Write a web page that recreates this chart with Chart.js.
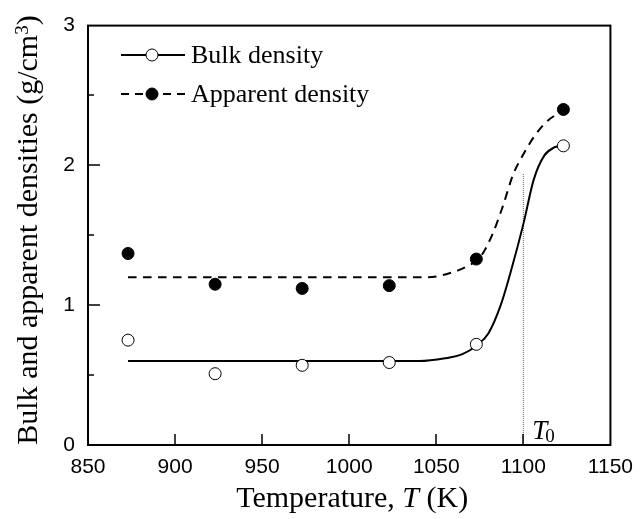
<html>
<head>
<title>Bulk and apparent densities</title>
<script src="https://cdn.jsdelivr.net/npm/chart.js@4.4.0/dist/chart.umd.min.js"></script>
<style>
  body { margin: 0; background: #fff; }
  #wrap { width: 643px; height: 519px; }
</style>
</head>
<body>
<div id="wrap"><canvas id="density-chart" width="643" height="519"></canvas></div>
<script>
// measured points
const temps = [873, 923, 973, 1023, 1073, 1123];
const bulkDensity = [0.75, 0.51, 0.57, 0.59, 0.72, 2.14];
const apparentDensity = [1.37, 1.15, 1.12, 1.14, 1.33, 2.40];

// fitted curves
const bulkFitT = [873, 1040, 1055, 1065, 1073, 1080, 1087, 1093, 1100, 1106, 1112, 1118, 1121];
const bulkFitY = [0.60, 0.60, 0.62, 0.65, 0.71, 0.80, 1.00, 1.25, 1.58, 1.90, 2.07, 2.13, 2.14];
const appFitT = [873, 1045, 1058, 1068, 1075, 1082, 1088, 1094, 1100, 1107, 1114, 1121];
const appFitY = [1.20, 1.20, 1.23, 1.28, 1.34, 1.50, 1.70, 1.93, 2.08, 2.22, 2.32, 2.38];

// T0 marker
const t0 = 1100;
const t0Top = 1.94;

const xTicks = [850, 900, 950, 1000, 1050, 1100, 1150];
const yTicks = [0, 1, 2, 3];
const xInnerTicks = [900, 950, 1000, 1050, 1100];
const yInnerTicks = [1, 2];
const yMinorTicks = [0.5, 1.5, 2.5];

const toXY = (xs, ys) => xs.map((x, i) => ({ x: x, y: ys[i] }));

const SERIF = '"Liberation Serif", "Times New Roman", serif';
const SANS = '"Liberation Sans", Arial, sans-serif';

function seg(ctx, x1, y1, x2, y2) {
    ctx.beginPath();
    ctx.moveTo(x1, y1);
    ctx.lineTo(x2, y2);
    ctx.stroke();
}

// frame, inward ticks, legend, titles, T0 label
const decorations = {
    id: 'decorations',
    afterDraw(chart) {
        const ctx = chart.ctx;
        const a = chart.chartArea;
        const xs = chart.scales.x;
        const ys = chart.scales.y;
        ctx.save();
        ctx.strokeStyle = '#000';
        ctx.setLineDash([]);
        ctx.lineWidth = 2;
        ctx.strokeRect(a.left, a.top, a.right - a.left, a.bottom - a.top);

        ctx.lineWidth = 1.5;
        xInnerTicks.forEach(v => {
            const px = Math.round(xs.getPixelForValue(v));
            seg(ctx, px, a.bottom, px, a.bottom - 11);
        });
        yInnerTicks.forEach(v => {
            const py = Math.round(ys.getPixelForValue(v));
            seg(ctx, a.left, py, a.left + 12, py);
        });
        yMinorTicks.forEach(v => {
            const py = Math.round(ys.getPixelForValue(v));
            seg(ctx, a.left, py, a.left + 6, py);
        });

        // legend
        const rows = [
            { y: 55, dash: [], fill: '#fff', text: 'Bulk density' },
            { y: 94, dash: [8, 6], fill: '#000', text: 'Apparent density' }
        ];
        rows.forEach(r => {
            ctx.setLineDash(r.dash);
            ctx.lineWidth = 2;
            seg(ctx, 121, r.y, 185, r.y);
            ctx.setLineDash([]);
            ctx.lineWidth = 1;
            ctx.fillStyle = r.fill;
            ctx.beginPath();
            ctx.arc(152, r.y, 6, 0, Math.PI * 2);
            ctx.fill();
            ctx.stroke();
            ctx.fillStyle = '#000';
            ctx.font = '26px ' + SERIF;
            ctx.textBaseline = 'middle';
            ctx.textAlign = 'left';
            ctx.fillText(r.text, 191, r.y + 1);
        });

        // T0 label
        const tx = xs.getPixelForValue(t0) + 9;
        const ty = 439;
        ctx.textBaseline = 'alphabetic';
        ctx.font = 'italic 27px ' + SERIF;
        ctx.fillText('T', tx, ty);
        const tw = ctx.measureText('T').width;
        ctx.font = '19px ' + SERIF;
        ctx.fillText('0', tx + tw - 2, ty + 3);

        // x title with italic T
        const parts = [
            { t: 'Temperature, ', f: '30px ' + SERIF },
            { t: 'T', f: 'italic 30px ' + SERIF },
            { t: ' (K)', f: '30px ' + SERIF }
        ];
        let total = 0;
        parts.forEach(p => { ctx.font = p.f; p.w = ctx.measureText(p.t).width; total += p.w; });
        let x0 = (a.left + a.right) / 2 - total / 2 + 3;
        parts.forEach(p => { ctx.font = p.f; ctx.fillText(p.t, x0, 507); x0 += p.w; });

        // y title with superscript 3
        ctx.translate(37, 230);
        ctx.rotate(-Math.PI / 2);
        const yParts = [
            { t: 'Bulk and apparent densities (g/cm', f: '30px ' + SERIF, dy: 0 },
            { t: '3', f: '19px ' + SERIF, dy: -9 },
            { t: ')', f: '30px ' + SERIF, dy: 0 }
        ];
        total = 0;
        yParts.forEach(p => { ctx.font = p.f; p.w = ctx.measureText(p.t).width; total += p.w; });
        x0 = -total / 2;
        yParts.forEach(p => { ctx.font = p.f; ctx.fillText(p.t, x0, p.dy); x0 += p.w; });
        ctx.restore();
    }
};

const ctx = document.getElementById('density-chart').getContext('2d');
new Chart(ctx, {
    type: 'scatter',
    data: {
        datasets: [
            {
                label: 'T0',
                data: toXY([t0, t0], [0, t0Top]),
                showLine: true,
                borderColor: '#666',
                borderWidth: 1,
                borderDash: [1, 1],
                pointRadius: 0,
                order: 5
            },
            {
                label: 'Bulk fit',
                data: toXY(bulkFitT, bulkFitY),
                showLine: true,
                borderColor: '#000',
                borderWidth: 2,
                cubicInterpolationMode: 'monotone',
                pointRadius: 0,
                order: 4
            },
            {
                label: 'Apparent fit',
                data: toXY(appFitT, appFitY),
                showLine: true,
                borderColor: '#000',
                borderWidth: 2,
                borderDash: [8.5, 6.5],
                cubicInterpolationMode: 'monotone',
                pointRadius: 0,
                order: 3
            },
            {
                label: 'Bulk density',
                data: toXY(temps, bulkDensity),
                pointRadius: 6,
                pointBackgroundColor: '#fff',
                pointBorderColor: '#000',
                pointBorderWidth: 1,
                order: 1
            },
            {
                label: 'Apparent density',
                data: toXY(temps, apparentDensity),
                pointRadius: 6,
                pointBackgroundColor: '#000',
                pointBorderColor: '#000',
                pointBorderWidth: 1,
                order: 2
            }
        ]
    },
    options: {
        responsive: false,
        animation: false,
        layout: { padding: { left: 0, top: 20, right: 26, bottom: 0 } },
        plugins: {
            legend: { display: false },
            tooltip: { enabled: false }
        },
        scales: {
            x: {
                type: 'linear',
                min: 850,
                max: 1150,
                afterBuildTicks: s => { s.ticks = xTicks.map(v => ({ value: v })); },
                afterFit: s => { s.height = 74; },
                grid: { display: false, drawTicks: false },
                border: { display: false },
                ticks: {
                    color: '#000',
                    padding: 10,
                    maxRotation: 0,
                    callback: v => String(v),
                    font: { family: SANS, size: 21 }
                }
            },
            y: {
                min: 0,
                max: 3,
                afterBuildTicks: s => { s.ticks = yTicks.map(v => ({ value: v })); },
                afterFit: s => { s.width = 88; },
                grid: { display: false, drawTicks: false },
                border: { display: false },
                ticks: {
                    color: '#000',
                    padding: 13,
                    callback: v => String(v),
                    font: { family: SANS, size: 21 }
                }
            }
        }
    },
    plugins: [decorations]
});
</script>
</body>
</html>
